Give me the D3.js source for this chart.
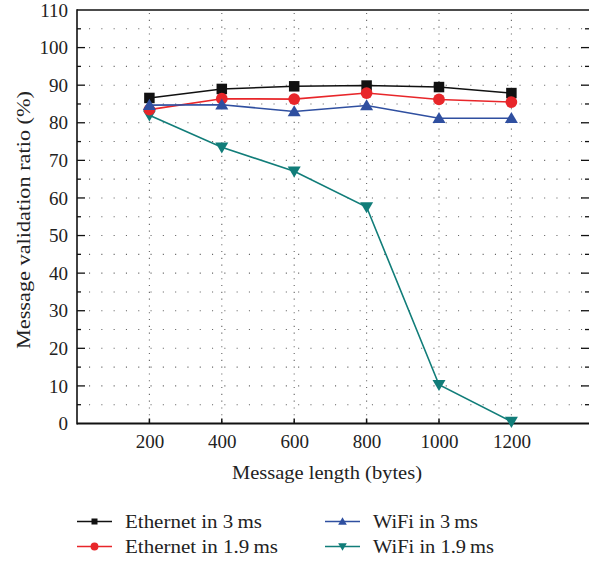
<!DOCTYPE html>
<html><head><meta charset="utf-8">
<script src="https://cdn.jsdelivr.net/npm/d3@7"></script>
<style>body{margin:0;background:#fff}svg{display:block}</style>
</head><body>
<svg id="c" width="589" height="563"></svg>
<script>
const lengths = [200, 400, 600, 800, 1000, 1200];
const ethernet3 = [86.6, 89.0, 89.7, 89.9, 89.5, 87.9];
const ethernet19 = [83.5, 86.4, 86.3, 87.9, 86.2, 85.5];
const wifi3 = [84.7, 84.8, 83.0, 84.6, 81.2, 81.2];
const wifi19 = [82.0, 73.5, 67.1, 57.6, 10.3, 0.5];
const xTicks = [200, 400, 600, 800, 1000, 1200];
const yTicks = [0,10,20,30,40,50,60,70,80,90,100,110];
const seriesNames = ["Ethernet in 3\u2009ms", "Ethernet in 1.9\u2009ms", "WiFi in 3\u2009ms", "WiFi in 1.9\u2009ms"];
const seriesColors = ["#111111", "#e8262a", "#2f4fa0", "#117d79"];
const seriesShapes = ["square", "circle", "triUp", "triDown"];
const seriesData = [ethernet3, ethernet19, wifi3, wifi19];

const FONT = "'Liberation Serif','Times New Roman',serif";
const svg = d3.select("#c");
const L = 77, R = 589, T = 10, B = 423.5;
const x = d3.scaleLinear().domain([0, 1400]).range([L, L + 1400 * 0.362]);
const y = d3.scaleLinear().domain([0, 110]).range([B, T]);

// grid
const g = svg.append("g");
d3.range(5, 110, 5).forEach(v => {
  g.append("line").attr("x1", L + 12).attr("x2", R).attr("y1", y(v)).attr("y2", y(v))
   .attr("stroke", "#666").attr("stroke-width", 1.1).attr("stroke-dasharray", "1.1,11.2");
});
xTicks.forEach(v => {
  g.append("line").attr("x1", x(v)).attr("x2", x(v)).attr("y1", T + 3).attr("y2", B)
   .attr("stroke", "#666").attr("stroke-width", 1.1).attr("stroke-dasharray", "1.1,5.7");
});

// frame
svg.append("line").attr("x1", L).attr("x2", R).attr("y1", T).attr("y2", T).attr("stroke", "#111").attr("stroke-width", 1.6);
svg.append("line").attr("x1", L).attr("x2", R).attr("y1", B).attr("y2", B).attr("stroke", "#111").attr("stroke-width", 2);
svg.append("line").attr("x1", L).attr("x2", L).attr("y1", T - 0.8).attr("y2", B + 1).attr("stroke", "#111").attr("stroke-width", 1.6);

const yAxis = d3.axisLeft(y).tickValues(yTicks).tickSize(0).tickPadding(9);
const ya = svg.append("g").attr("transform", `translate(${L},0)`).call(yAxis);
ya.select(".domain").remove();
ya.selectAll("text").style("font-size", "19px").style("font-family", FONT).attr("fill", "#222");
d3.range(5, 110, 5).forEach(v => {
  const len = v % 10 === 0 ? 8 : 4;
  svg.append("line").attr("x1", L).attr("x2", L + len).attr("y1", y(v)).attr("y2", y(v)).attr("stroke", "#111").attr("stroke-width", 1.3);
  svg.append("line").attr("x1", R - len).attr("x2", R).attr("y1", y(v)).attr("y2", y(v)).attr("stroke", "#111").attr("stroke-width", 1.3);
});

const xAxis = d3.axisBottom(x).tickValues(xTicks).tickSize(0).tickPadding(11).tickFormat(d3.format("d"));
const xa = svg.append("g").attr("transform", `translate(0,${B})`).call(xAxis);
xa.select(".domain").remove();
xa.selectAll("text").style("font-size", "19px").style("font-family", FONT).attr("fill", "#222");
xTicks.forEach(v => {
  svg.append("line").attr("x1", x(v)).attr("x2", x(v)).attr("y1", B).attr("y2", B - 5).attr("stroke", "#111").attr("stroke-width", 1.5);
});

svg.append("text").attr("x", 327).attr("y", 479).attr("text-anchor", "middle")
  .style("font-family", FONT).style("font-size", "19px").attr("fill", "#222")
  .attr("textLength", 190).attr("lengthAdjust", "spacingAndGlyphs").text("Message length (bytes)");
svg.append("text").attr("transform", `translate(30,220) rotate(-90)`).attr("text-anchor", "middle")
  .style("font-family", FONT).style("font-size", "19px").attr("fill", "#222")
  .attr("textLength", 258).attr("lengthAdjust", "spacingAndGlyphs").text("Message validation ratio (%)");

function marker(sel, shape, color, s) {
  if (shape === "square") sel.append("rect").attr("x", -s * 0.5).attr("y", -s * 0.5).attr("width", s).attr("height", s).attr("fill", color);
  else if (shape === "circle") sel.append("circle").attr("r", s * 0.56).attr("fill", color);
  else if (shape === "triUp") sel.append("path").attr("d", `M0,${-s*0.6}L${s*0.62},${s*0.46}L${-s*0.62},${s*0.46}Z`).attr("fill", color);
  else sel.append("path").attr("d", `M0,${s*0.6}L${s*0.62},${-s*0.46}L${-s*0.62},${-s*0.46}Z`).attr("fill", color);
}

const line = d3.line().x((d, i) => x(lengths[i])).y(d => y(d));
const order = [3, 0, 1, 2];
order.forEach(k => {
  svg.append("path").datum(seriesData[k]).attr("d", line).attr("fill", "none")
    .attr("stroke", seriesColors[k]).attr("stroke-width", 1.6);
  seriesData[k].forEach((v, i) => {
    const m = svg.append("g").attr("transform", `translate(${x(lengths[i])},${y(v)})`);
    marker(m, seriesShapes[k], seriesColors[k], 10.5);
  });
});

// legend
const legPos = [[77, 521.5], [77, 546.5], [325, 521.5], [325, 546.5]];
const legLen = [137, 153, 105, 121];
seriesNames.forEach((n, k) => {
  const [lx, ly] = legPos[k];
  svg.append("line").attr("x1", lx).attr("x2", lx + 35).attr("y1", ly).attr("y2", ly).attr("stroke", seriesColors[k]).attr("stroke-width", 1.6);
  const m = svg.append("g").attr("transform", `translate(${lx + 17.5},${ly})`);
  marker(m, seriesShapes[k], seriesColors[k], k === 0 ? 6 : 7);
  svg.append("text").attr("x", lx + 48).attr("y", ly + 6).style("font-family", FONT).style("font-size", "18.5px").attr("fill", "#222")
    .attr("textLength", legLen[k]).attr("lengthAdjust", "spacingAndGlyphs").text(n);
});
</script>
</body></html>
